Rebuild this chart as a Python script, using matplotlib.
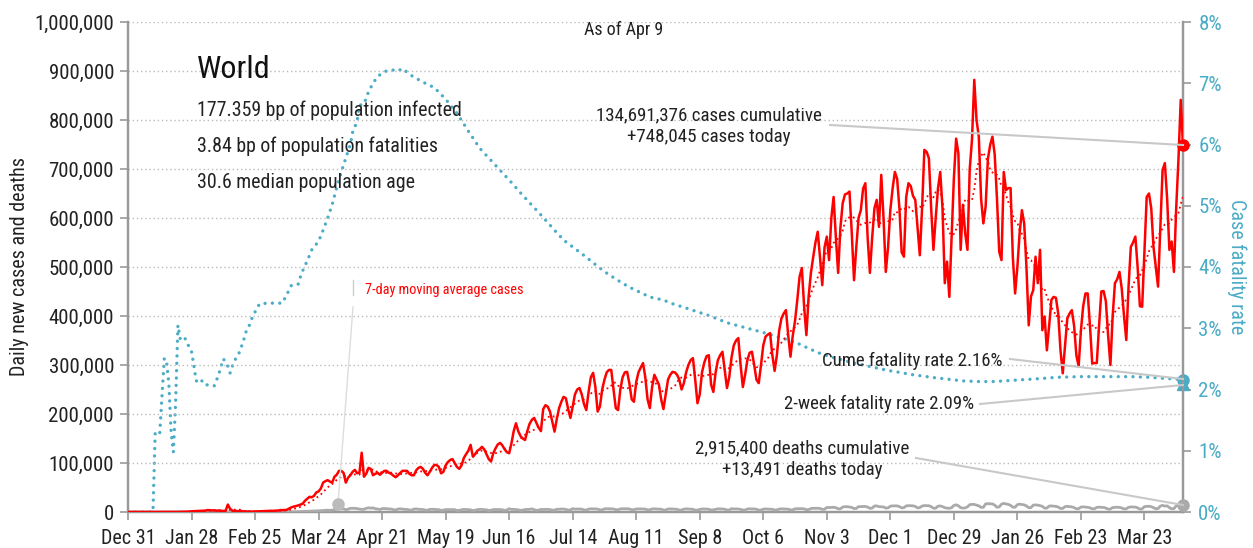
import numpy as np
import pandas as pd
import matplotlib
matplotlib.use("Agg")
import matplotlib.pyplot as plt
from matplotlib import font_manager as fm
from matplotlib.ticker import FuncFormatter

# ---------------- DATA ----------------
start_date = "2019-12-31"

# daily new cases (thousands), Dec 31 2019 .. Apr 9 2021
cases_k = [
    0.03, 0, 0, 0, 0, 0, 0,
    0, 0, 0, 0, 0, 0, 0,
    0, 0, 0, 0.02, 0.08, 0.08, 0.08,
    0.15, 0.15, 0.3, 0.3, 0.5, 0.7, 0.8,
    1.5, 1.7, 1.8, 2.0, 2.1, 2.6, 2.8,
    3.9, 3.7, 3.2, 3.4, 2.7, 3.0, 2.5,
    2.0, 2.0, 15.2, 6.5, 2.6, 2.1, 2.0,
    1.9, 1.8, 0.8, 0.9, 1.0, 0.6, 0.8,
    0.9, 1.0, 1.4, 1.4, 1.9, 1.8, 2.0,
    2.5, 2.3, 2.8, 2.9, 3.8, 3.9, 4.0,
    4.5, 7.0, 9.5, 11.0, 12.0, 13.5, 15.0,
    17, 23, 27, 31, 30, 33, 40,
    42, 48, 60, 63, 65, 62, 60,
    72, 76, 84, 84, 80, 60, 70,
    75, 82, 86, 79, 80, 121, 72,
    78, 90, 88, 75, 78, 80, 76,
    80, 84, 84, 80, 78, 74, 71,
    75, 80, 84, 84, 84, 78, 75,
    75, 85, 90, 92, 88, 80, 75,
    82, 90, 96, 96, 92, 79, 82,
    95, 102, 106, 108, 100, 92, 88,
    95, 110, 118, 125, 137, 113, 118,
    125, 128, 133, 128, 118, 108, 103,
    120, 130, 138, 141, 136, 128, 122,
    120, 140, 165, 181, 165, 155, 150,
    147, 165, 180, 188, 192, 182, 172,
    165, 210, 218, 215, 205, 185, 164,
    190, 212, 225, 235, 232, 210, 192,
    215, 240, 250, 253, 240, 220, 208,
    245, 275, 284, 255, 205, 215, 250,
    270, 285, 290, 290, 250, 212, 208,
    250, 275, 285, 286, 262, 230, 225,
    265, 285, 295, 304, 275, 230, 212,
    255, 280, 270, 260, 230, 210, 240,
    270, 280, 286, 285, 280, 270, 250,
    263, 285, 300, 310, 314, 270, 222,
    240, 285, 305, 318, 320, 260, 245,
    285, 310, 320, 327, 290, 253, 275,
    315, 340, 350, 355, 300, 255, 280,
    310, 325, 327, 300, 270, 263, 300,
    340, 358, 362, 365, 320, 288, 320,
    370, 395, 405, 412, 360, 317, 360,
    390, 433, 480, 498, 420, 361, 440,
    488, 520, 550, 572, 520, 463, 540,
    562, 514, 600, 643, 560, 488, 580,
    630, 648, 650, 654, 570, 473, 540,
    600, 616, 660, 671, 560, 488, 560,
    620, 637, 582, 688, 600, 490, 540,
    616, 660, 694, 680, 620, 530, 521,
    643, 671, 665, 645, 637, 580, 524,
    620, 739, 735, 722, 620, 535, 600,
    660, 694, 620, 467, 511, 439, 560,
    680, 762, 732, 535, 627, 569, 535,
    700, 760, 882, 800, 766, 640, 589,
    623, 720, 749, 766, 730, 640, 531,
    514, 694, 657, 661, 661, 520, 446,
    500, 570, 616, 589, 500, 381, 440,
    453, 521, 467, 535, 371, 399, 330,
    380, 433, 439, 437, 405, 330, 283,
    340, 395, 405, 412, 380, 320, 297,
    370, 420, 446, 446, 380, 303, 304,
    304, 380, 450, 451, 430, 360, 300,
    400, 467, 475, 490, 456, 400, 351,
    460, 541, 550, 562, 500, 420, 419,
    530, 643, 650, 620, 541, 500, 460,
    580, 698, 712, 640, 535, 552, 490,
    620, 720, 841, 748.045,
]

# daily new deaths (thousands)
deaths_k = [
    0, 0, 0, 0, 0, 0, 0,
    0, 0, 0, 0, 0, 0, 0,
    0, 0, 0, 0, 0, 0, 0,
    0.01, 0.01, 0.01, 0.02, 0.02, 0.02, 0.02,
    0.03, 0.03, 0.04, 0.04, 0.05, 0.06, 0.06,
    0.07, 0.07, 0.08, 0.09, 0.09, 0.1, 0.1,
    0.1, 0.1, 0.25, 0.15, 0.14, 0.14, 0.1,
    0.1, 0.1, 0.1, 0.1, 0.1, 0.1, 0.15,
    0.1, 0.1, 0.05, 0.05, 0.05, 0.06, 0.07,
    0.08, 0.08, 0.1, 0.1, 0.1, 0.2, 0.2,
    0.3, 0.3, 0.35, 0.4, 0.4, 0.6, 0.8,
    0.9, 1.0, 1.2, 1.4, 1.7, 1.8, 2.0,
    2.5, 2.8, 2.9, 3.5, 3.6, 3.3, 3.8,
    4.8, 5.2, 6.1, 6.3, 6.5, 4.8, 5.5,
    7.5, 7.5, 7.5, 7.0, 6.0, 5.5, 5.5,
    7.5, 8.5, 7.8, 8.4, 6.7, 6.2, 4.9,
    7.0, 7.0, 6.6, 6.2, 6.0, 4.8, 4.1,
    6.0, 6.5, 6.0, 5.4, 5.4, 4.1, 3.9,
    6.0, 6.3, 5.6, 5.4, 5.1, 3.9, 3.6,
    5.3, 5.6, 5.3, 5.1, 4.7, 3.4, 3.6,
    5.0, 4.8, 4.9, 5.0, 4.8, 3.0, 3.4,
    4.5, 5.3, 5.1, 4.9, 4.3, 3.1, 3.5,
    4.8, 5.3, 5.2, 4.7, 4.4, 3.2, 3.5,
    5.0, 5.1, 5.1, 5.0, 4.4, 3.4, 3.9,
    6.8, 5.3, 5.2, 5.1, 4.4, 3.5, 3.7,
    5.1, 5.2, 5.3, 6.5, 4.7, 3.4, 3.8,
    5.3, 5.0, 5.3, 5.3, 5.0, 3.8, 3.8,
    5.6, 5.6, 6.1, 5.9, 5.3, 4.0, 4.1,
    6.8, 5.8, 6.1, 5.9, 5.9, 4.2, 4.1,
    5.9, 6.6, 6.3, 6.4, 5.9, 4.4, 4.4,
    6.4, 6.7, 6.5, 6.4, 6.2, 4.6, 4.6,
    6.3, 6.7, 6.7, 6.6, 6.2, 4.6, 4.5,
    6.2, 6.4, 6.4, 6.2, 5.9, 4.4, 4.4,
    6.3, 6.4, 6.2, 6.1, 5.7, 4.1, 4.0,
    6.1, 6.3, 6.1, 5.8, 5.4, 4.0, 4.0,
    5.9, 6.4, 6.1, 6.0, 5.5, 3.9, 3.9,
    5.2, 6.2, 6.2, 6.0, 5.5, 4.1, 4.3,
    5.5, 6.5, 6.4, 6.1, 5.7, 4.2, 4.0,
    6.8, 6.2, 6.4, 6.1, 5.4, 4.1, 4.0,
    6.2, 6.5, 6.2, 6.4, 5.5, 3.9, 4.0,
    5.8, 6.2, 6.0, 5.9, 5.5, 4.1, 4.2,
    6.0, 6.4, 6.3, 6.0, 5.7, 4.2, 4.4,
    6.5, 6.6, 6.6, 6.9, 6.3, 4.7, 5.1,
    7.0, 7.7, 7.5, 7.6, 7.3, 5.4, 5.6,
    9.3, 9.0, 9.2, 9.6, 8.8, 6.5, 6.5,
    10.0, 10.8, 10.9, 10.0, 9.3, 7.0, 7.4,
    11.0, 10.9, 11.3, 11.3, 10.0, 7.5, 7.9,
    12.2, 12.4, 10.9, 10.7, 10.3, 7.9, 8.5,
    11.8, 12.5, 12.5, 12.5, 11.0, 8.4, 8.9,
    12.4, 13.0, 12.8, 12.6, 11.3, 8.3, 9.0,
    12.1, 13.1, 13.0, 12.8, 11.0, 7.8, 7.7,
    11.9, 12.4, 11.0, 8.8, 7.9, 7.5, 8.7,
    13.4, 14.6, 12.8, 8.8, 8.0, 8.3, 10.5,
    15.0, 15.5, 15.5, 14.0, 12.5, 9.5, 9.5,
    16.5, 17.0, 16.8, 16.5, 14.0, 9.7, 10.5,
    16.0, 17.5, 16.5, 15.5, 13.5, 9.8, 9.8,
    15.0, 16.0, 15.2, 14.5, 12.5, 8.8, 9.0,
    14.0, 14.5, 14.0, 13.0, 11.5, 7.8, 8.0,
    12.0, 12.5, 11.8, 11.5, 10.0, 7.2, 7.3,
    11.0, 11.5, 11.0, 10.5, 9.0, 6.5, 6.8,
    10.0, 10.5, 10.0, 9.5, 8.5, 6.5, 6.5,
    9.5, 9.8, 9.6, 9.3, 8.0, 5.8, 6.0,
    9.0, 9.5, 9.8, 9.3, 8.3, 6.2, 6.5,
    9.5, 10.3, 10.2, 10.0, 8.5, 5.8, 6.5,
    11.0, 11.5, 11.8, 10.8, 9.0, 6.5, 7.0,
    12.0, 13.5, 12.0, 12.5, 9.0, 6.5, 6.8,
    12.5, 13.0, 13.5, 13.491,
]

# cumulative case fatality rate (%), read at these day offsets from start_date
cfr_day = [0, 11, 12, 13, 14, 16, 17, 18, 19, 20, 21, 22, 23, 24, 25, 26, 27, 28,
           29, 30, 31, 33, 35, 38, 39, 40, 42, 43, 44, 45, 46, 48, 49, 50, 51, 52,
           53, 55, 58, 62, 68, 70, 72, 75, 76, 77, 79, 81, 84, 86, 88, 90, 92, 94,
           96, 98, 99, 101, 102, 104, 106, 108, 110, 113, 116, 119, 121, 124, 126,
           131, 135, 140, 145, 150, 155, 160, 164, 169, 173, 178, 183, 188, 192,
           197, 202, 207, 211, 216, 221, 226, 230, 236, 240, 246, 250, 255, 260,
           264, 268, 273, 278, 282, 287, 291, 296, 300, 305, 310, 315, 320, 324,
           330, 335, 340, 346, 352, 356, 361, 368, 375, 382, 390, 399, 410, 420,
           430, 442, 450, 457, 462, 465]
cfr_pct = [0, 0, 1.31, 1.31, 1.29, 2.51, 2.45, 2.10, 1.30, 0.98, 1.80, 3.05, 2.83,
           2.80, 2.84, 2.78, 2.68, 2.62, 2.40, 2.15, 2.10, 2.15, 2.07, 2.06, 2.15,
           2.25, 2.50, 2.45, 2.38, 2.27, 2.38, 2.55, 2.60, 2.70, 2.81, 2.94, 3.00,
           3.20, 3.40, 3.41, 3.41, 3.55, 3.70, 3.72, 3.84, 3.94, 4.10, 4.28, 4.42,
           4.60, 4.80, 5.02, 5.30, 5.55, 5.78, 6.00, 6.20, 6.38, 6.64, 6.66, 6.86,
           7.00, 7.11, 7.19, 7.22, 7.20, 7.24, 7.15, 7.10, 7.00, 6.93, 6.74, 6.51,
           6.22, 5.94, 5.74, 5.58, 5.38, 5.21, 5.01, 4.81, 4.60, 4.44, 4.30, 4.16,
           4.01, 3.90, 3.78, 3.67, 3.58, 3.51, 3.46, 3.40, 3.33, 3.28, 3.22, 3.15,
           3.09, 3.05, 3.00, 2.95, 2.91, 2.85, 2.81, 2.74, 2.67, 2.59, 2.53, 2.48,
           2.43, 2.40, 2.35, 2.31, 2.28, 2.24, 2.21, 2.19, 2.17, 2.14, 2.13, 2.13,
           2.15, 2.17, 2.20, 2.21, 2.21, 2.21, 2.20, 2.18, 2.17, 2.16]

two_week_cfr = 2.09
cume_cfr = 2.16
cum_cases = 134691376
cum_deaths = 2915400

xtick_labels = ["Dec 31", "Jan 28", "Feb 25", "Mar 24", "Apr 21", "May 19", "Jun 16",
                "Jul 14", "Aug 11", "Sep 8", "Oct 6", "Nov 3", "Dec 1", "Dec 29",
                "Jan 26", "Feb 23", "Mar 23"]
left_ticks = [0, 100000, 200000, 300000, 400000, 500000, 600000, 700000, 800000,
              900000, 1000000]
right_ticks = [0, 1, 2, 3, 4, 5, 6, 7, 8]

# ---------------- FONT ----------------
names = {f.name for f in fm.fontManager.ttflist}
font = "DejaVu Sans"
stretch = "normal"
for cand in ["Liberation Sans Narrow", "Roboto Condensed", "Open Sans Condensed",
             "DejaVu Sans Condensed"]:
    if cand in names:
        font = cand
        break
else:
    stretch = "condensed"
plt.rcParams["font.family"] = [font, "DejaVu Sans"]
plt.rcParams["font.stretch"] = stretch

# ---------------- FIGURE ----------------
W, H = 1253, 548
fig = plt.figure(figsize=(W / 100, H / 100), dpi=100)
L, R, T, B = 128, 1183, 22, 512
ax = fig.add_axes([L / W, 1 - B / H, (R - L) / W, (B - T) / H])
ax2 = ax.twinx()

dates = pd.date_range(start_date, periods=len(cases_k), freq="D")
cases = pd.Series(np.array(cases_k) * 1000, index=dates)
deaths = pd.Series(np.array(deaths_k) * 1000, index=dates)
ma7 = cases.rolling(7, min_periods=1).mean()
cfr_dates = pd.Timestamp(start_date) + pd.to_timedelta(cfr_day, unit="D")

RED = "#ff0000"
GREY = "#aaaaaa"
TEAL = "#4bacc6"
TXT = "#222222"
AXC = "#999999"

ax.plot(dates, deaths.values, color=GREY, lw=2.0, zorder=3)
ax.plot(dates, ma7.values, color=RED, lw=1.3, ls=(0, (1, 1.8)), zorder=4)
ax.plot(dates, cases.values, color=RED, lw=1.8, zorder=5)

ax2.plot(cfr_dates, cfr_pct, color=TEAL, lw=2.4, ls=(0, (0.01, 2.2)),
         dash_capstyle="round", zorder=3)

# end markers
ax.plot([dates[-1]], [cases.values[-1]], "o", color=RED, ms=8, zorder=6, clip_on=False)
ax.plot([dates[-1]], [deaths.values[-1]], "o", color=GREY, ms=8, zorder=6, clip_on=False)
ax2.plot([dates[-1]], [cume_cfr], "o", color=TEAL, ms=8, zorder=6, clip_on=False)
ax2.plot([dates[-1]], [two_week_cfr], "^", color=TEAL, ms=8, zorder=6, clip_on=False)

# axes limits & ticks
ax.set_xlim(dates[0], dates[-1])
ax.set_ylim(0, 1000000)
ax2.set_ylim(0, 8)
tick_dates = pd.date_range(start_date, periods=len(xtick_labels), freq="28D")
ax.set_xticks(tick_dates)
ax.set_xticklabels(xtick_labels)
ax.set_yticks(left_ticks)
ax.yaxis.set_major_formatter(FuncFormatter(lambda v, p: f"{int(v):,}"))
ax2.set_yticks(right_ticks)
ax2.yaxis.set_major_formatter(FuncFormatter(lambda v, p: f"{int(v)}%"))

for a in (ax, ax2):
    a.spines["top"].set_visible(False)
    for s in ("left", "right", "bottom"):
        a.spines[s].set_color(AXC)
        a.spines[s].set_linewidth(1.6)
ax.tick_params(axis="both", colors=AXC, length=6, width=1.2, labelsize=15,
               labelcolor=TXT, pad=4)
ax.tick_params(axis="x", pad=6, labelsize=14.5)
ax2.tick_params(axis="y", colors=AXC, length=6, width=1.2, labelsize=15,
                labelcolor=TEAL, pad=5)

ax.yaxis.grid(True, color="#bbbbbb", ls=(0, (1, 2)), lw=1.0)
ax.set_axisbelow(True)
ax.set_zorder(ax2.get_zorder() + 1)
ax.patch.set_visible(False)

ax.set_ylabel("Daily new cases and deaths", fontsize=14.5, color=TXT, labelpad=4)
ax2.set_ylabel("Case fatality rate", fontsize=14.5, color=TEAL, rotation=270,
               labelpad=18)

# ---------------- TEXT ----------------
def fx(px):
    return px / W

def fy(py):
    return 1 - py / H

fig.text(fx(624), fy(30), "As of Apr 9", ha="center", va="center", fontsize=13, color=TXT)
fig.text(fx(197), fy(70), "World", ha="left", va="center", fontsize=23,
         color="#111111")
fig.text(fx(197), fy(110), "177.359 bp of population infected", ha="left", va="center",
         fontsize=14.3, color=TXT)
fig.text(fx(197), fy(146), "3.84 bp of population fatalities", ha="left", va="center",
         fontsize=14.3, color=TXT)
fig.text(fx(197), fy(182), "30.6 median population age", ha="left", va="center",
         fontsize=14.3, color=TXT)

fig.text(fx(709), fy(126), f"{cum_cases:,} cases cumulative\n+748,045 cases today",
         ha="center", va="center", fontsize=13.7, color=TXT, linespacing=1.3)
fig.text(fx(1003), fy(361), f"Cume fatality rate {cume_cfr:.2f}%", ha="right",
         va="center", fontsize=13.5, color=TXT)
fig.text(fx(974), fy(404), f"2-week fatality rate {two_week_cfr:.2f}%", ha="right",
         va="center", fontsize=13.5, color=TXT)
fig.text(fx(802), fy(459), f"{cum_deaths:,} deaths cumulative\n+13,491 deaths today",
         ha="center", va="center", fontsize=13.7, color=TXT, linespacing=1.3)
fig.text(fx(365), fy(290), "7-day moving average cases", ha="left", va="center",
         fontsize=10.3, color=RED)

# leader lines (in pixel space -> figure fraction)
def leader(x0, y0, x1, y1, color="#c8c8c8", lw=1.5):
    fig.add_artist(plt.Line2D([fx(x0), fx(x1)], [fy(y0), fy(y1)], color=color, lw=lw,
                              transform=fig.transFigure, zorder=2))

leader(830, 125, 1183, 145)
leader(1010, 359, 1183, 379)
leader(980, 404, 1183, 385)
leader(916, 458, 1183, 505)
leader(353, 280, 353, 295, color="#cccccc", lw=1.0)
leader(353, 307, 338, 504, color="#dddddd", lw=1.0)
fig.add_artist(plt.Line2D([fx(338)], [fy(504)], marker="o", ms=8, color="#bbbbbb",
                          transform=fig.transFigure))

fig.savefig("out.png", dpi=100)
